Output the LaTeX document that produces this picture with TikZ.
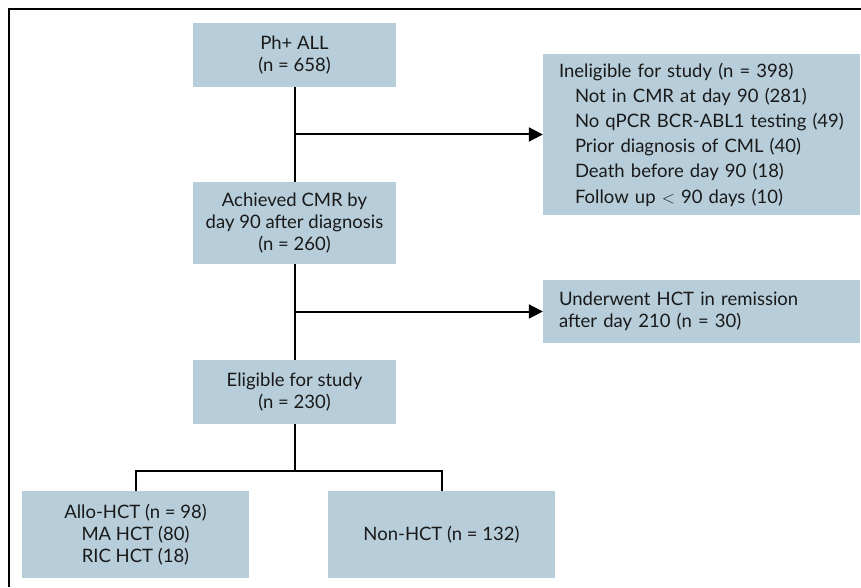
\documentclass[tikz,border=0pt]{standalone}
\usepackage{fontspec}
\setmainfont{Lato}
\usetikzlibrary{positioning,arrows.meta}

\definecolor{boxblue}{RGB}{183,205,217}
\definecolor{inkgray}{RGB}{25,25,25}

\tikzset{
    flowbox/.style={fill=boxblue, text=inkgray, align=center, inner sep=0pt,
        font=\fontsize{18.5}{22.3}\selectfont},
    sidebox/.style={flowbox, align=left, text width=285pt, inner xsep=16pt},
    link/.style={line width=2pt},
    arrowlink/.style={link, -{Triangle[length=14pt,width=14pt]}}
}

\begin{document}
\begin{tikzpicture}[x=1pt,y=1pt]
    \useasboundingbox (0,0) rectangle (861,587);

    % Frame
    \draw[line width=2pt] (9,0) -- (9,578) -- (861,578);

    % Main column
    \node[flowbox, minimum width=203pt, minimum height=64pt] (all) at (294.5,532) {Ph+ ALL\\(n = 658)};
    \node[flowbox, minimum width=203pt, minimum height=82pt] (cmr) at (294.5,364) {Achieved CMR by\\day 90 after diagnosis\\(n = 260)};
    \node[flowbox, minimum width=203pt, minimum height=64pt] (elig) at (294.5,195) {Eligible for study\\(n = 230)};

    % Exclusions
    \node[sidebox, minimum height=161pt, font=\fontsize{18.5}{25.2}\selectfont] (inel) at (701.5,452.5) {Ineligible for study (n = 398)\\
        \hspace*{16pt}Not in CMR at day 90 (281)\\
        \hspace*{16pt}No qPCR BCR-ABL1 testing (49)\\
        \hspace*{16pt}Prior diagnosis of CML (40)\\
        \hspace*{16pt}Death before day 90 (18)\\
        \hspace*{16pt}Follow up $<$ 90 days (10)};
    \node[sidebox, minimum height=63pt] (hct) at (701.5,275.5) {Underwent HCT in remission\\after day 210 (n = 30)};

    % Groups
    \node[flowbox, minimum width=227pt, minimum height=87pt] (allo) at (135.5,52.5) {Allo-HCT (n = 98)\\MA HCT (80)\\RIC HCT (18)};
    \node[flowbox, minimum width=227pt, minimum height=87pt] (non) at (441.5,52.5) {Non-HCT (n = 132)};

    % Connectors
    \coordinate (b1) at (all.south |- inel.west);
    \coordinate (b2) at (cmr.south |- hct.west);
    \coordinate[below=47pt of elig.south] (split);
    \draw[link] (all.south) -- (cmr.north);
    \draw[arrowlink] (b1) -- (inel.west);
    \draw[link] (cmr.south) -- (elig.north);
    \draw[arrowlink] (b2) -- (hct.west);
    \draw[link] (elig.south) -- (split);
    \draw[link] (allo.north) |- (split) -| (non.north);
\end{tikzpicture}
\end{document}
